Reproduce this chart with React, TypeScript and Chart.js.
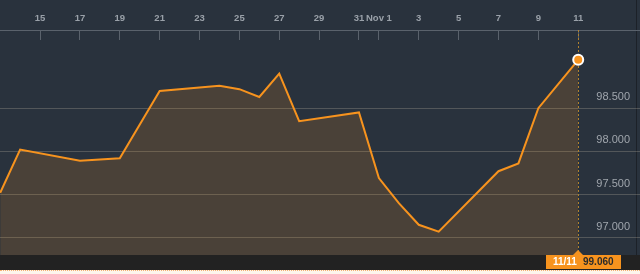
import React, { useEffect, useRef } from "react";
import { Chart, registerables } from "chart.js";

Chart.register(...registerables);

// ---- data ----
const dates: string[] = [
  "10/13", "10/14", "10/17", "10/19", "10/21", "10/24", "10/25", "10/26", "10/27", "10/28",
  "10/31", "11/1", "11/2", "11/3", "11/4", "11/7", "11/8", "11/9", "11/11",
];
const values: number[] = [
  97.52, 98.02, 97.89, 97.92, 98.7, 98.76, 98.72, 98.63, 98.9, 98.35,
  98.45, 97.69, 97.4, 97.15, 97.07, 97.77, 97.86, 98.5, 99.06,
];
const xTickDays: number[] = [15, 17, 19, 21, 23, 25, 27, 29, 31, 32, 34, 36, 38, 40, 42];
const xTickLabels: string[] = ["15", "17", "19", "21", "23", "25", "27", "29", "31", "Nov 1", "3", "5", "7", "9", "11"];
const yTicks: number[] = [97, 97.5, 98, 98.5];

// convert "M/D" to a running day number (October days as-is, November days + 31)
const dayNumber = (s: string): number => {
  const [m, d] = s.split("/").map(Number);
  return m === 11 ? d + 31 : d;
};

const BG = "#29323d";
const ORANGE = "#f7931e";

export default function App() {
  const ref = useRef<HTMLCanvasElement | null>(null);

  useEffect(() => {
    document.body.style.margin = "0";
    if (!ref.current) return;
    const pts = dates.map((d, i) => ({ x: dayNumber(d), y: values[i] }));
    const last = pts.length - 1;

    const bgPlugin = {
      id: "bg",
      beforeDraw(chart: any) {
        const { ctx, width, height, chartArea } = chart;
        ctx.save();
        ctx.fillStyle = BG;
        ctx.fillRect(0, 0, width, height);
        ctx.fillStyle = "#222222";
        ctx.fillRect(0, chartArea.bottom, width, height - chartArea.bottom);
        ctx.fillStyle = "#1c2128";
        ctx.fillRect(636, 0, 1, chartArea.bottom);
        ctx.restore();
      },
      beforeDatasetsDraw(chart: any) {
        const { ctx, chartArea } = chart;
        const el = chart.getDatasetMeta(0).data[last];
        if (!el) return;
        ctx.save();
        ctx.strokeStyle = "#b0822e";
        ctx.lineWidth = 1;
        ctx.setLineDash([2, 2]);
        ctx.beginPath();
        ctx.moveTo(Math.round(el.x) + 0.5, chartArea.top);
        ctx.lineTo(Math.round(el.x) + 0.5, chartArea.bottom);
        ctx.stroke();
        ctx.restore();
      },
      afterDraw(chart: any) {
        const { ctx, chartArea } = chart;
        const el = chart.getDatasetMeta(0).data[last];
        if (!el) return;
        const x = Math.round(el.x);
        const top = chartArea.bottom;
        const left = x - 32;
        const w = 75;
        const h = 14;
        ctx.save();
        ctx.fillStyle = ORANGE;
        ctx.fillRect(left, top, w, h);
        ctx.beginPath();
        ctx.moveTo(x - 5, top);
        ctx.lineTo(x, top - 5);
        ctx.lineTo(x + 5, top);
        ctx.closePath();
        ctx.fill();
        ctx.font = "bold 10px 'Liberation Sans', Arial, sans-serif";
        ctx.textBaseline = "middle";
        ctx.textAlign = "left";
        ctx.fillStyle = "#ffffff";
        ctx.fillText(dates[last], left + 7, top + h / 2 + 0.5);
        ctx.fillStyle = "#2b2b2b";
        ctx.fillText(values[last].toFixed(3), left + 37, top + h / 2 + 0.5);
        ctx.restore();
      },
    };

    const chart = new Chart(ref.current, {
      type: "line",
      data: {
        datasets: [
          {
            data: pts,
            borderColor: ORANGE,
            borderWidth: 2,
            backgroundColor: "rgba(247,148,29,0.16)",
            fill: "start",
            tension: 0,
            pointRadius: (c: any) => (c.dataIndex === last ? 5 : 0),
            pointHoverRadius: (c: any) => (c.dataIndex === last ? 5 : 0),
            pointBackgroundColor: ORANGE,
            pointBorderColor: "#ffffff",
            pointBorderWidth: 2,
          },
        ],
      },
      options: {
        animation: false,
        responsive: false,
        events: [],
        layout: { autoPadding: false, padding: { left: 0, right: 0, top: 0, bottom: 15 } },
        plugins: { legend: { display: false }, tooltip: { enabled: false } },
        scales: {
          x: {
            type: "linear",
            position: "top",
            min: 12.99,
            max: 45.1,
            afterBuildTicks: (s: any) => {
              s.ticks = xTickDays.map((v) => ({ value: v }));
            },
            afterFit: (s: any) => {
              s.height = 30;
              s.paddingLeft = 0;
              s.paddingRight = 0;
            },
            grid: {
              drawOnChartArea: false,
              drawTicks: true,
              tickLength: -10,
              color: "#5a626c",
            },
            border: { display: true, color: "#5a626c", width: 1 },
            ticks: {
              padding: 16,
              maxRotation: 0,
              autoSkip: false,
              color: "#9aa1a9",
              font: { family: "'Liberation Sans', Arial, sans-serif", size: 9.5, weight: "bold" },
              callback: (v: any) => {
                const i = xTickDays.indexOf(Number(v));
                return i >= 0 ? xTickLabels[i] : "";
              },
            },
          },
          y: {
            type: "linear",
            position: "right",
            min: 96.8,
            max: 99.405,
            z: 1,
            afterBuildTicks: (s: any) => {
              s.ticks = yTicks.map((v) => ({ value: v }));
            },
            afterFit: (s: any) => {
              s.width = 0;
              s.paddingTop = 0;
              s.paddingBottom = 0;
            },
            grid: {
              drawTicks: false,
              color: "rgba(255,235,210,0.2)",
              lineWidth: 1,
            },
            border: { display: false },
            ticks: {
              mirror: true,
              padding: -10,
              labelOffset: -11,
              color: "#a0a6ad",
              font: { family: "'Liberation Sans', Arial, sans-serif", size: 11 },
              callback: (v: any) => Number(v).toFixed(3),
            },
          },
        },
      },
      plugins: [bgPlugin],
    } as any);

    return () => chart.destroy();
  }, []);

  return (
    <div style={{ width: 640 }}>
      <div style={{ width: 640, height: 270 }}>
        <canvas ref={ref} width={640} height={270} style={{ display: "block" }} />
      </div>
      <div style={{ width: 640, height: 3, background: "#fdf5ec", borderTop: "1px dotted #f5b070" }} />
    </div>
  );
}
